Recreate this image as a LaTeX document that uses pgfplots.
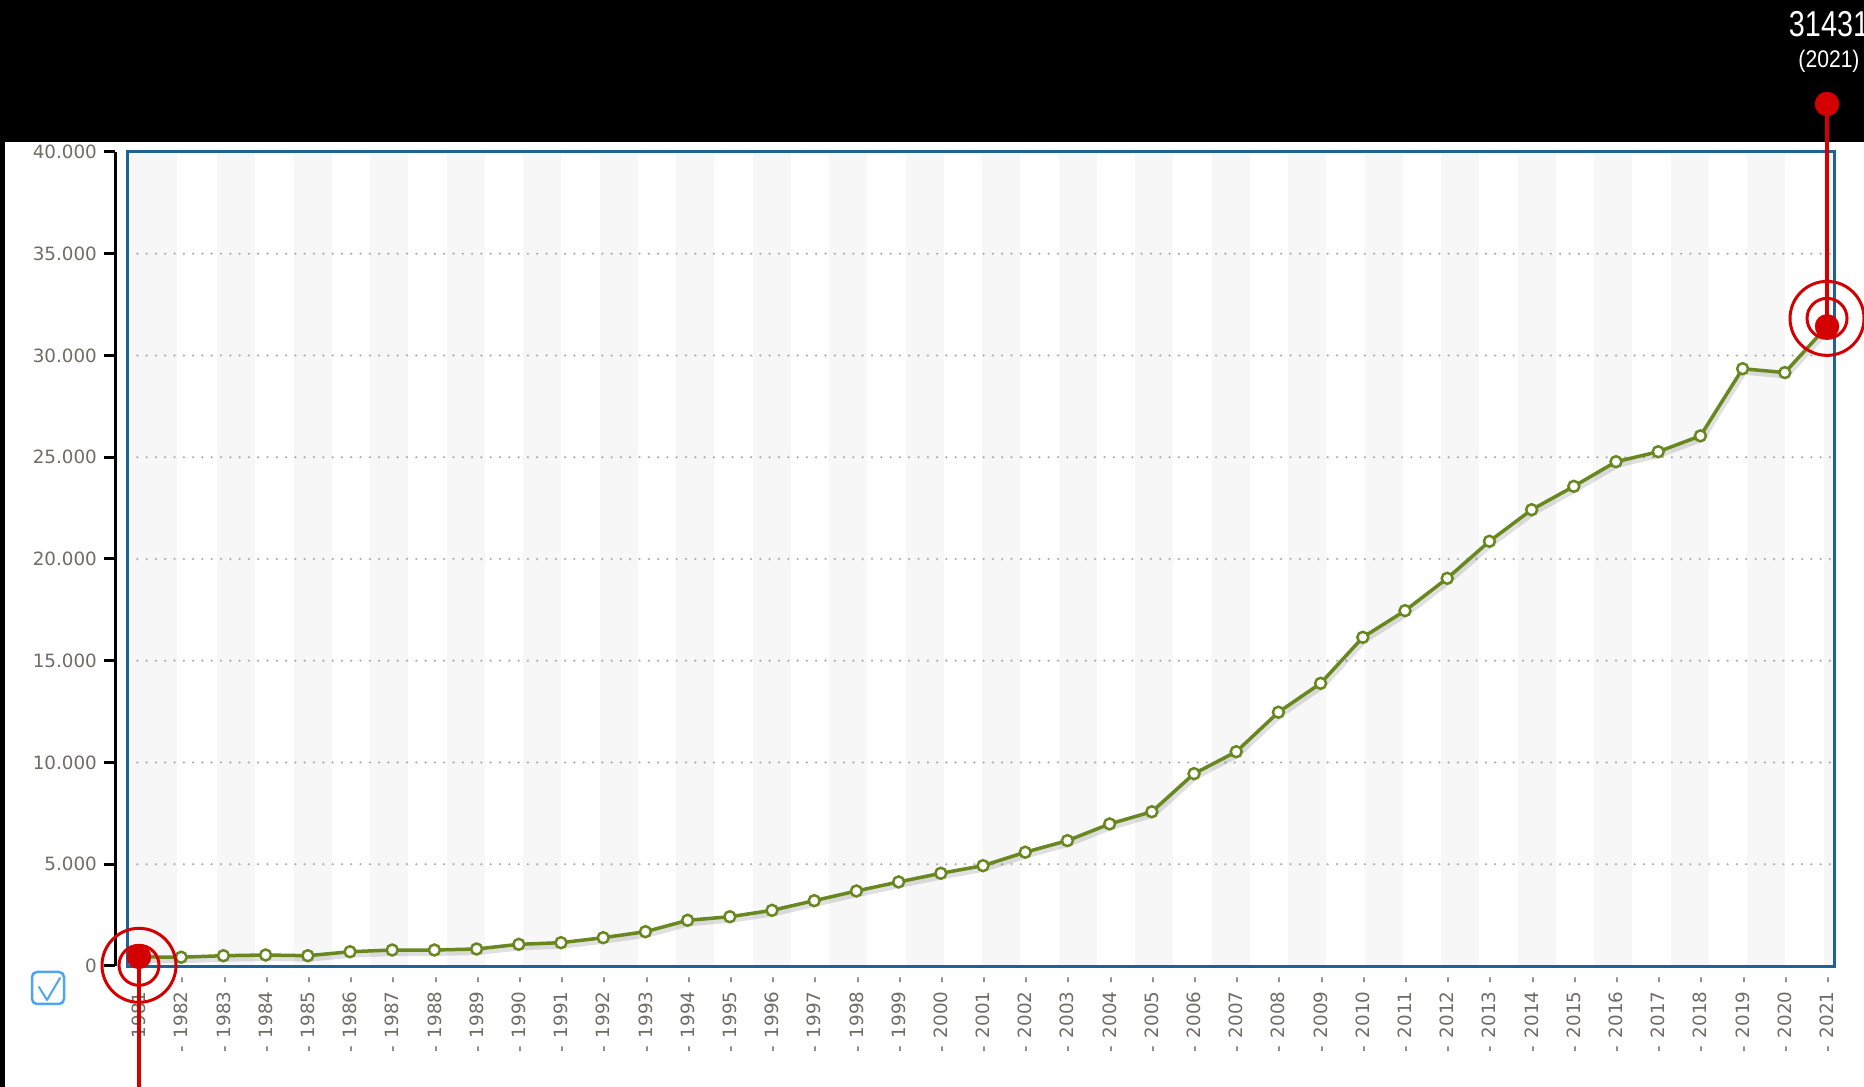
\documentclass[border=0pt]{standalone}
\usepackage{fontspec}
\setmainfont{DejaVu Sans}
\newfontfamily\valfont{Liberation Sans}
\usepackage{pgfplots}
\usepackage{pgfplotstable}
\pgfplotsset{compat=1.18}
\definecolor{frameblue}{RGB}{30,98,150}
\definecolor{lineolive}{RGB}{104,135,30}
\definecolor{markred}{RGB}{212,0,0}
\definecolor{lblgray}{RGB}{112,108,100}
\definecolor{gridgray}{RGB}{175,175,175}
\definecolor{bandgray}{RGB}{247,247,247}
\definecolor{checkblue}{RGB}{77,166,245}
\newcommand\lbl{\fontsize{18.3}{22}\selectfont}
\newcommand\yl[1]{-\hspace{0.42em}#1\hspace{0.42em}-}

\pgfplotstableread{
year val
1981 450
1982 430
1983 505
1984 540
1985 505
1986 700
1987 785
1988 785
1989 835
1990 1065
1991 1145
1992 1390
1993 1685
1994 2245
1995 2420
1996 2735
1997 3210
1998 3685
1999 4130
2000 4555
2001 4930
2002 5590
2003 6160
2004 6980
2005 7580
2006 9450
2007 10530
2008 12470
2009 13890
2010 16150
2011 17460
2012 19050
2013 20870
2014 22420
2015 23570
2016 24780
2017 25270
2018 26050
2019 29350
2020 29160
2021 31431
}\data

\begin{document}
\begin{tikzpicture}
\useasboundingbox (0pt,0pt) rectangle (1864pt,1087pt);
\fill[white] (0pt,0pt) rectangle (1864pt,1087pt);
\fill[black] (0pt,945pt) rectangle (1864pt,1087pt);
\fill[black] (0pt,0pt) rectangle (5pt,945pt);
% alternating background bands
\fill[bandgray] (128pt,120pt) rectangle (177pt,935pt);
\foreach \k in {0,...,20} {
  \fill[bandgray] ({(217+76.5*\k)*1pt},120pt) rectangle ({(255.25+76.5*\k)*1pt},935pt);
}
\fill[bandgray] (1823.5pt,120pt) rectangle (1834pt,935pt);

% black y axis line and its ticks
\draw[black, line width=3pt] (115pt,121pt) -- (115pt,935pt);
\foreach \i in {0,...,8} {
  \draw[black, line width=3pt] (104pt,{(121.017+101.748*\i)*1pt}) -- (115pt,{(121.017+101.748*\i)*1pt});
}

% main plot
\begin{axis}[
  at={(128pt,120pt)}, anchor=south west,
  width=1706pt, height=815pt, scale only axis,
  xmin=1980.739, xmax=2021.166, ymin=-50, ymax=40000,
  scaled y ticks=false,
  axis line style={draw=frameblue, line width=3pt},
  xtick={1981,...,2021},
  xticklabels={\yl{1981},\yl{1982},\yl{1983},\yl{1984},\yl{1985},\yl{1986},\yl{1987},\yl{1988},\yl{1989},\yl{1990},\yl{1991},\yl{1992},\yl{1993},\yl{1994},\yl{1995},\yl{1996},\yl{1997},\yl{1998},\yl{1999},\yl{2000},\yl{2001},\yl{2002},\yl{2003},\yl{2004},\yl{2005},\yl{2006},\yl{2007},\yl{2008},\yl{2009},\yl{2010},\yl{2011},\yl{2012},\yl{2013},\yl{2014},\yl{2015},\yl{2016},\yl{2017},\yl{2018},\yl{2019},\yl{2020},\yl{2021}},
  xticklabel style={rotate=90, anchor=east, inner sep=0pt, font=\lbl, text=lblgray},
  xticklabel shift=10pt,
  major tick length=0pt,
  ytick={5000,10000,15000,20000,25000,30000,35000},
  yticklabels={5.000,10.000,15.000,20.000,25.000,30.000,35.000},
  extra y ticks={0,40000},
  extra y tick labels={0,40.000},
  extra y tick style={grid=none},
  ytick pos=left,
  yticklabel style={anchor=east, inner sep=0pt, xshift=-31pt, font=\lbl, text=lblgray},
  ymajorgrids,
  grid style={draw=gridgray, line width=2.5pt, dash pattern=on 0pt off 9.3pt, line cap=round},
  clip=false,
]
% shadow
\addplot[black, opacity=0.12, line width=6pt, yshift=-3pt, xshift=1.5pt] table[x=year,y=val] {\data};
% main line
\addplot[lineolive, line width=3.5pt, mark=*, mark size=5.5pt,
  mark options={fill=white, draw=lineolive, line width=2.5pt}] table[x=year,y=val] {\data};
% red leader lines
\addplot[markred, line width=3.5pt] coordinates {(2021,31431) (2021,42360)};
\addplot[markred, line width=3.5pt] coordinates {(1981,450) (1981,-5950)};
% red highlight markers
\addplot[only marks, mark=*, mark size=12pt, color=markred] coordinates {(1981,450) (2021,31431) (2021,42360)};
\addplot[only marks, mark=o, mark size=20pt, color=markred, line width=3pt, mark options={yshift=-8.5pt}] coordinates {(1981,450)};
\addplot[only marks, mark=o, mark size=37pt, color=markred, line width=3pt, mark options={yshift=-8.5pt}] coordinates {(1981,450)};
\addplot[only marks, mark=o, mark size=20pt, color=markred, line width=3pt, mark options={yshift=8pt}] coordinates {(2021,31431)};
\addplot[only marks, mark=o, mark size=37pt, color=markred, line width=3pt, mark options={yshift=8pt}] coordinates {(2021,31431)};
\end{axis}

% value label
\node[text=white, inner sep=0pt] at (1829pt,1062.5pt) {\valfont\fontsize{36}{40}\selectfont\scalebox{0.8}[1]{31431}};
\node[text=white, inner sep=0pt] at (1829pt,1026pt) {\valfont\fontsize{24}{28}\selectfont\scalebox{0.88}[1]{(2021)}};

% checkbox icon
\draw[checkblue, line width=2.5pt, rounded corners=5pt] (32pt,83pt) rectangle (64pt,115pt);
\draw[checkblue, line width=2pt, line join=round, line cap=round] (39pt,100pt) -- (47pt,87pt) -- (60pt,109pt);
\end{tikzpicture}
\end{document}
